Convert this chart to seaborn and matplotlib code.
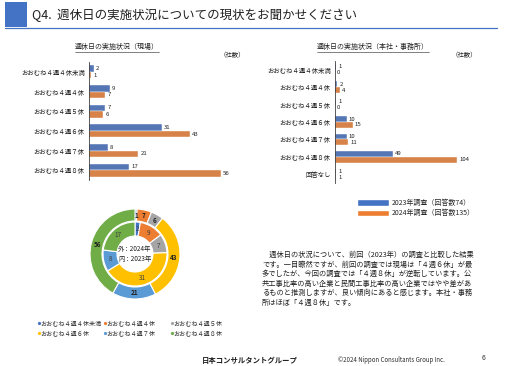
import numpy as np
import pandas as pd
import matplotlib
matplotlib.use('Agg')
import matplotlib.pyplot as plt
from matplotlib.patches import Rectangle, Patch
from matplotlib.lines import Line2D
import seaborn as sns

sns.set_theme(style='white')
plt.rcParams['font.family'] = ['Noto Sans CJK JP', 'DejaVu Sans']

BLUE = '#4472C4'
ORANGE = '#ED7D31'
GRAY = '#A5A5A5'
YELLOW = '#FFC000'
LBLUE = '#5B9BD5'
GREEN = '#70AD47'

### data
site_cats = ['おおむね４週４休未満', 'おおむね４週４休', 'おおむね４週５休',
             'おおむね４週６休', 'おおむね４週７休', 'おおむね４週８休']
site_2023 = [2, 9, 7, 31, 8, 17]
site_2024 = [1, 7, 6, 43, 21, 56]

office_cats = site_cats + ['回答なし']
office_2023 = [1, 2, 1, 10, 10, 49, 1]
office_2024 = [0, 4, 0, 15, 11, 104, 1]

years = ['2023年調査（回答数74）', '2024年調査（回答数135）']
donut_colors = [BLUE, ORANGE, GRAY, YELLOW, LBLUE, GREEN]

body_lines = [
    '　週休日の状況について、前回（2023年）の調査と比較した結果',
    'です。一目瞭然ですが、前回の調査では現場は「４週６休」が最',
    '多でしたが、今回の調査では「４週８休」が逆転しています。公',
    '共工事比率の高い企業と民間工事比率の高い企業ではやや差があ',
    'るものと推測しますが、良い傾向にあると感じます。本社・事務',
    '所はほぼ「４週８休」です。',
]

W, H = 512, 366
fig = plt.figure(figsize=(W / 100, H / 100), dpi=100)
fig.patch.set_facecolor('white')


def fx(x):
    return x / W


def fy(y):
    return 1 - y / H


def long_df(cats, a, b):
    return pd.DataFrame({
        'cat': cats * 2,
        'count': a + b,
        'year': [years[0]] * len(cats) + [years[1]] * len(cats),
    })


def bar_panel(rect, cats, a, b, xmax, title, tx, ux):
    ax = fig.add_axes(rect)
    df = long_df(cats, a, b)
    sns.barplot(data=df, y='cat', x='count', hue='year', orient='h',
                palette=[BLUE, ORANGE], width=0.66, ax=ax, legend=False,
                edgecolor='white', linewidth=0.3)
    ax.set_xlim(0, xmax)
    ax.set_xlabel('')
    ax.set_ylabel('')
    ax.set_xticks([])
    for s in ['top', 'right', 'bottom']:
        ax.spines[s].set_visible(False)
    ax.spines['left'].set_color('#404040')
    ax.spines['left'].set_linewidth(0.6)
    ax.tick_params(axis='y', length=0, labelsize=4.6, pad=3, colors='#202020')
    ax.set_yticks(np.arange(-0.5, len(cats), 1), minor=True)
    ax.tick_params(axis='y', which='minor', length=2, width=0.5, color='#404040')
    for c in ax.containers:
        ax.bar_label(c, fontsize=4.3, padding=1.5, color='#202020')
    # title with underline
    fig.text(fx(tx), fy(47), title, fontsize=5, ha='center', va='center', color='#202020')
    tw = len(title) * 7
    fig.add_artist(Line2D([fx(tx - tw / 2), fx(tx + tw / 2)], [fy(52), fy(52)],
                          color='#202020', lw=0.4))
    fig.text(fx(ux), fy(55), '（社数）', fontsize=4.6, ha='center', va='center', color='#202020')
    return ax


# header
fig.add_artist(Rectangle((fx(5), fy(27)), fx(27) - fx(5), fy(2) - fy(27),
                         transform=fig.transFigure, color=BLUE, lw=0))
fig.add_artist(Line2D([fx(5), fx(497)], [fy(28), fy(28)], color=BLUE, lw=0.9))
fig.text(fx(32), fy(15), 'Q4.  週休日の実施状況についての現状をお聞かせください',
         fontsize=9, ha='left', va='center', color='#202020')

# bar charts
bar_panel([fx(89), fy(180), fx(141), 118 / H], site_cats, site_2023, site_2024,
          60, '週休日の実施状況（現場）', 117, 232)
bar_panel([fx(335), fy(183), fx(135), 122 / H], office_cats, office_2023, office_2024,
          115, '週休日の実施状況（本社・事務所）', 373, 464)

# legend for bars
handles = [Patch(facecolor=BLUE), Patch(facecolor=ORANGE)]
fig.legend(handles, years, loc='upper left', bbox_to_anchor=(fx(354), fy(196)),
           frameon=False, fontsize=5, handlelength=4.6, handleheight=1.0,
           labelspacing=0.35, handletextpad=0.5, borderaxespad=0)

# donut
dax = fig.add_axes([fx(85), fy(304), fx(100), 100 / H])
wedge = dict(edgecolor='white', linewidth=0.8)
outer, _ = dax.pie(site_2024, radius=0.9, colors=donut_colors, startangle=90,
                   counterclock=False, wedgeprops=dict(width=0.24, **wedge))
inner, _ = dax.pie(site_2023, radius=0.64, colors=donut_colors, startangle=90,
                   counterclock=False, wedgeprops=dict(width=0.28, **wedge))
dax.set_xlim(-1, 1)
dax.set_ylim(-1, 1)
dax.set_aspect('equal')
dax.axis('off')


def label_ring(wedges, vals, r, color, weight):
    for w, v in zip(wedges, vals):
        ang = np.deg2rad((w.theta1 + w.theta2) / 2)
        dax.text(r * np.cos(ang), r * np.sin(ang), str(v), fontsize=4.6,
                 ha='center', va='center', color=color, fontweight=weight)


label_ring(outer, site_2024, 0.78, '#202020', 'bold')
label_ring(inner, site_2023, 0.5, '#404040', 'normal')
dax.text(0, 0, '外：2024年\n内：2023年', fontsize=4.6, ha='center', va='center',
         color='#202020', linespacing=1.2)

# body text
for i, line in enumerate(body_lines):
    fig.text(fx(262), fy(255 + i * 9.5), line, fontsize=5.2, ha='left', va='center',
             color='#202020')

# donut legend (colored dot + label)
for i, (name, col) in enumerate(zip(site_cats, donut_colors)):
    x = [37, 103, 170][i % 3]
    y = [323, 333][i // 3]
    fig.add_artist(Line2D([fx(x + 1.5)], [fy(y)], marker='o', markersize=1.3,
                          color=col, lw=0))
    fig.text(fx(x + 3.5), fy(y), name, fontsize=4.4, ha='left', va='center', color='#303030')

# footer
fig.text(fx(250), fy(360), '日本コンサルタントグループ', fontsize=5.3, ha='center', va='center',
         fontweight='bold', fontstyle='italic', color='#202020')
fig.text(fx(338), fy(360), '©2024 Nippon Consultants Group Inc.', fontsize=4.4,
         ha='left', va='center', color='#303030')
fig.text(fx(483), fy(358), '6', fontsize=5, ha='center', va='center', color='#303030')

fig.savefig('out.png', dpi=100, facecolor='white')
